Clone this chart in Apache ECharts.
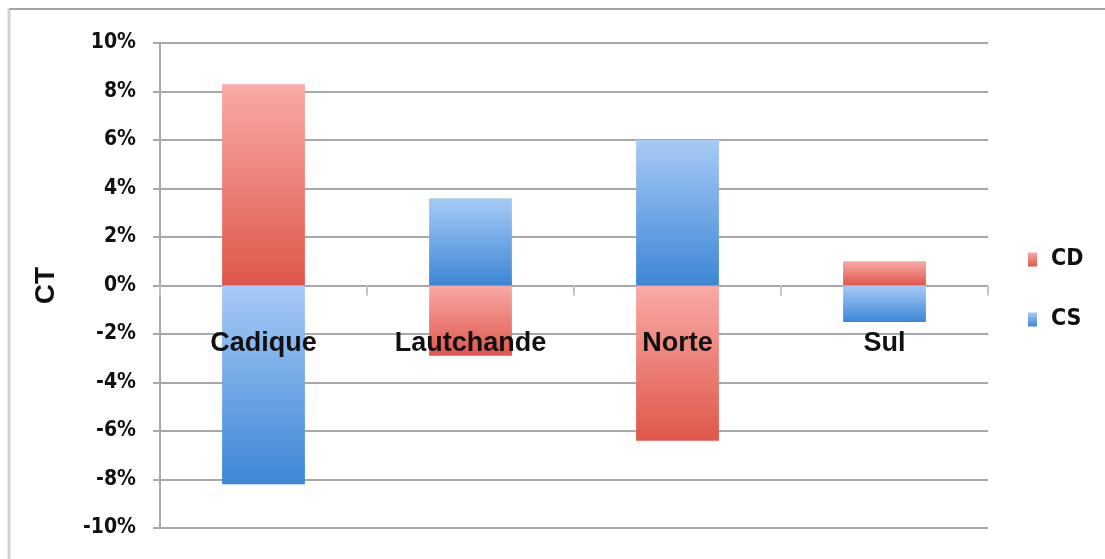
<!DOCTYPE html>
<html>
<head>
<meta charset="utf-8">
<script src="https://cdn.jsdelivr.net/npm/echarts@6/dist/echarts.min.js"></script>
<style>
  html, body { margin: 0; padding: 0; background: #fff; }
  #main { width: 1105px; height: 559px; }
</style>
</head>
<body>
<div id="main"></div>
<script>
// 类别
var categories = ['Cadique', 'Lautchande', 'Norte', 'Sul'];
// 两组数据 (单位: %)
var cdValues = [8.3, -2.9, -6.4, 1.0];
var csValues = [-8.2, 3.6, 6.0, -1.5];
// 纵轴范围
var yMin = -10;
var yMax = 10;
var yStep = 2;

var gridColor = '#a8a8a8';
var redFill = new echarts.graphic.LinearGradient(0, 0, 0, 1, [
  { offset: 0, color: '#f9aaa7' },
  { offset: 1, color: '#df574a' }
]);
var blueFill = new echarts.graphic.LinearGradient(0, 0, 0, 1, [
  { offset: 0, color: '#a7caf6' },
  { offset: 1, color: '#3d86d5' }
]);

var myChart = echarts.init(document.getElementById('main'));

var option = {
  backgroundColor: '#fff',
  animation: false,
  // 外框 (只有左边和上边可见)
  graphic: [
    { type: 'line', shape: { x1: 9, y1: 9, x2: 9, y2: 559 }, style: { stroke: '#d2d2d2', lineWidth: 3 } },
    { type: 'line', shape: { x1: 9, y1: 9, x2: 1105, y2: 9 }, style: { stroke: '#a4a4a4', lineWidth: 2 } }
  ],
  grid: {
    left: 160,
    right: 117,
    top: 43,
    bottom: 31,
    outerBoundsMode: 'none',
    containLabel: false
  },
  legend: {
    orient: 'vertical',
    left: 1023,
    top: 243,
    itemWidth: 9,
    itemHeight: 14,
    itemGap: 37,
    icon: 'rect',
    data: ['CD', 'CS'],
    textStyle: {
      fontFamily: 'Liberation Sans Narrow, DejaVu Sans Condensed, sans-serif',
      fontWeight: 'bold',
      fontSize: 23,
      color: '#111',
      padding: [0, 0, 0, 9]
    }
  },
  xAxis: {
    type: 'category',
    data: categories,
    z: 10,
    axisLine: { show: false },
    axisTick: {
      show: true,
      length: 10,
      lineStyle: { color: '#c4c4c4', width: 2 }
    },
    axisLabel: {
      // 标签放在 0 线下方
      margin: -198,
      fontFamily: 'Liberation Sans, Arial, sans-serif',
      fontWeight: 'bold',
      fontSize: 27,
      color: '#111'
    }
  },
  yAxis: {
    type: 'value',
    min: yMin,
    max: yMax,
    interval: yStep,
    name: 'CT',
    nameLocation: 'middle',
    nameGap: 100,
    nameTextStyle: {
      fontFamily: 'Liberation Sans, Arial, sans-serif',
      fontWeight: 'bold',
      fontSize: 28,
      color: '#111'
    },
    axisLine: { show: true, lineStyle: { color: gridColor, width: 2 } },
    axisTick: { show: true, length: 7, lineStyle: { color: gridColor, width: 2 } },
    splitLine: { show: true, lineStyle: { color: gridColor, width: 2 } },
    axisLabel: {
      margin: 24,
      formatter: '{value}%',
      fontFamily: 'Liberation Sans Narrow, DejaVu Sans Condensed, sans-serif',
      fontWeight: 'bold',
      fontSize: 21,
      color: '#111'
    }
  },
  series: [
    {
      name: 'CD',
      type: 'bar',
      stack: 'total',
      barWidth: '40%',
      data: cdValues,
      itemStyle: { color: redFill }
    },
    {
      name: 'CS',
      type: 'bar',
      stack: 'total',
      barWidth: '40%',
      data: csValues,
      itemStyle: { color: blueFill }
    }
  ]
};

myChart.setOption(option);
</script>
</body>
</html>
